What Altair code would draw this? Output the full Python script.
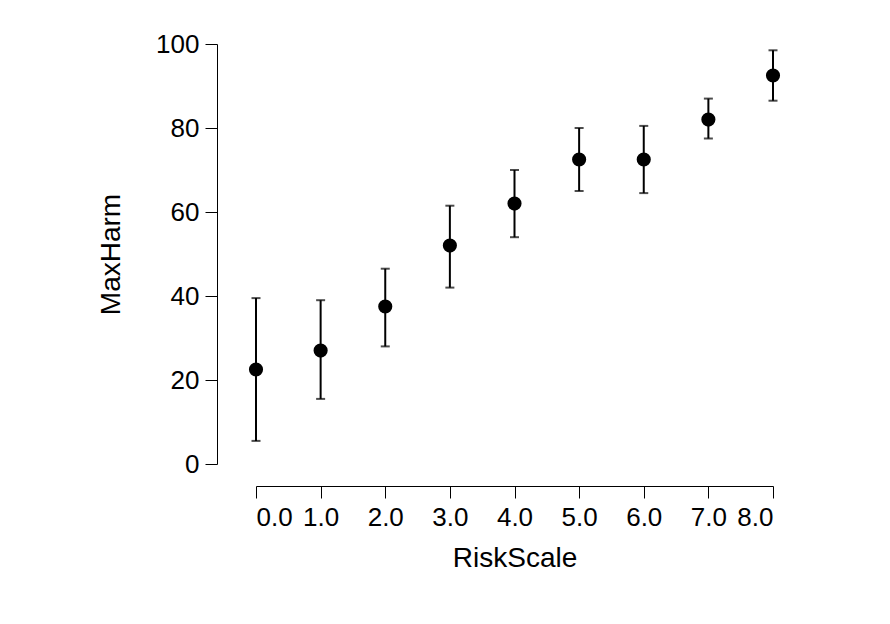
import pandas as pd
import altair as alt

risk = [0, 1, 2, 3, 4, 5, 6, 7, 8]
harm = [22.5, 27, 37.5, 52, 62, 72.5, 72.5, 82, 92.5]
low = [5.5, 15.5, 28, 42, 54, 65, 64.5, 77.5, 86.5]
high = [39.5, 39, 46.5, 61.5, 70, 80, 80.5, 87, 98.5]

df = pd.DataFrame({"RiskScale": risk, "MaxHarm": harm, "lo": low, "hi": high})

x = alt.X("RiskScale:Q", title="RiskScale", scale=alt.Scale(domain=[0, 8], nice=False),
          axis=alt.Axis(values=risk, offset=22, tickSize=12, labelPadding=6,
                        titlePadding=14, grid=False))
y = alt.Y("MaxHarm:Q", title="MaxHarm", scale=alt.Scale(domain=[0, 100], nice=False),
          axis=alt.Axis(values=[0, 20, 40, 60, 80, 100], offset=39, tickSize=12,
                        labelPadding=6, titlePadding=30, grid=False,
                        labelAngle=0))

base = alt.Chart(df)
bars = base.mark_rule(color="black", strokeWidth=2).encode(
    x=x, y=alt.Y("lo:Q", title="MaxHarm", scale=alt.Scale(domain=[0, 100], nice=False)), y2="hi:Q")
caps_lo = base.mark_tick(color="black", thickness=2, size=9, orient="horizontal").encode(
    x="RiskScale:Q", y="lo:Q")
caps_hi = base.mark_tick(color="black", thickness=2, size=9, orient="horizontal").encode(
    x="RiskScale:Q", y="hi:Q")
pts = base.mark_point(filled=True, color="black", opacity=1, size=200, shape="circle").encode(
    x=x, y=y)

chart = (bars + caps_lo + caps_hi + pts).properties(
    width=517, height=420,
    background="white",
    autosize=alt.AutoSizeParams(type="none"),
    padding={"left": 248, "top": 36, "right": 100, "bottom": 150},
).configure_axis(
    labelFont="Liberation Sans", titleFont="Liberation Sans",
    labelFontSize=26, titleFontSize=28, titleFontWeight="normal",
    labelColor="black", titleColor="black", domainColor="black",
    tickColor="black", domainWidth=1, tickWidth=1,
).configure_view(stroke=None)

chart.save("out.html", embed_options={"renderer": "svg", "actions": False})
